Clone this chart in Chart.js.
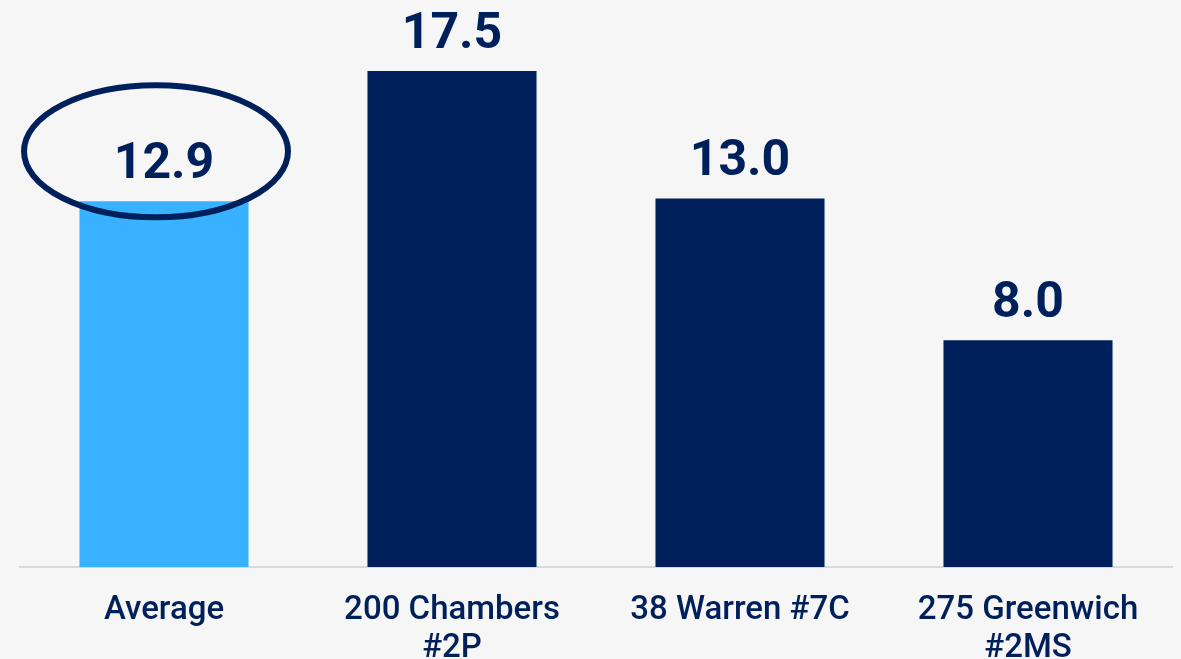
<!DOCTYPE html>
<html>
<head>
<meta charset="utf-8">
<script src="https://cdn.jsdelivr.net/npm/chart.js@4/dist/chart.umd.min.js"></script>
<style>
  html, body { margin: 0; padding: 0; background: #f6f6f6; }
  #wrap { width: 1181px; height: 659px; overflow: hidden; }
</style>
</head>
<body>
<div id="wrap"><canvas id="c" width="1181" height="659"></canvas></div>
<script>
// Values per listing (months)
const categories = [["Average"], ["200 Chambers", "#2P"], ["38 Warren #7C"], ["275 Greenwich", "#2MS"]];
const values = [12.9, 17.5, 13.0, 8.0];
const highlightIndex = 0;

const NAVY = "#00205b";
const LIGHT_BLUE = "#38b1ff";

const barColors = values.map((v, i) => i === highlightIndex ? LIGHT_BLUE : NAVY);

// Value labels above each bar, plus an ellipse around the highlighted one
const valueLabels = {
  id: "valueLabels",
  afterDatasetsDraw(chart) {
    const ctx = chart.ctx;
    const meta = chart.getDatasetMeta(0);
    ctx.save();
    ctx.fillStyle = NAVY;
    ctx.font = "bold 50px Roboto";
    ctx.textAlign = "center";
    ctx.textBaseline = "alphabetic";
    meta.data.forEach((bar, i) => {
      const v = chart.data.datasets[0].data[i];
      ctx.fillText(v.toFixed(1), bar.x, bar.y - 23);
    });
    const hb = meta.data[highlightIndex];
    ctx.beginPath();
    ctx.ellipse(hb.x - 8, hb.y - 50, 132, 66, 0, 0, Math.PI * 2);
    ctx.lineWidth = 6;
    ctx.strokeStyle = NAVY;
    ctx.stroke();
    ctx.restore();
  }
};

new Chart(document.getElementById("c"), {
  type: "bar",
  data: {
    labels: categories,
    datasets: [{
      data: values,
      backgroundColor: barColors,
      borderWidth: 0,
      barPercentage: 0.587,
      categoryPercentage: 1.0
    }]
  },
  options: {
    responsive: false,
    animation: false,
    layout: { padding: { left: 20, right: 9, top: 0, bottom: 0 } },
    plugins: { legend: { display: false }, tooltip: { enabled: false } },
    scales: {
      x: {
        grid: { display: false },
        border: { display: true, color: "#d9d9d9", width: 2 },
        afterFit(scale) { scale.height = 92; },
        ticks: {
          color: NAVY,
          font: { family: "Roboto", size: 33, weight: "500", lineHeight: 1.15 },
          padding: 17,
          maxRotation: 0,
          autoSkip: false
        }
      },
      y: {
        display: false,
        min: 0,
        max: 20
      }
    }
  },
  plugins: [valueLabels]
});
</script>
</body>
</html>
